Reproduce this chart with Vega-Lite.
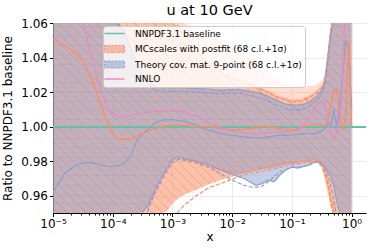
{
"$schema":"https://vega.github.io/schema/vega-lite/v6.json",
"width":313,"height":190,
"autosize":{"type":"none"},
"padding":{"left":53,"top":23,"right":7,"bottom":39},
"background":"white",
"title":{"text":"u at 10 GeV","fontSize":14.5,"fontWeight":"normal","font":"DejaVu Sans","color":"black","offset":-1.5},
"config":{
 "font":"DejaVu Sans",
 "view":{"stroke":null},
 "axis":{"domainColor":"black","tickColor":"black","labelColor":"black","titleColor":"black","labelFont":"DejaVu Sans","titleFont":"DejaVu Sans","labelFontSize":12,"titleFontSize":12,"titleFontWeight":"normal","gridColor":"#ebebeb","tickSize":3.5,"domainWidth":1,"tickWidth":1},
 "axisY":{"labelOverlap":false,"tickCount":6,"format":".2f","labelFlush":false}
},
"data":{"values":[
{"x":0.00001,"oc":1.051,"bc":0.962,"nn":1.16,"olo":0.95,"ohi":1.06,"oh":1.06,"blo":0.95,"bhi":1.06,"od1":0.93,"od2":0.93,"od3":1.08,"bd1":0.93,"bd2":1.08},
{"x":0.0000158,"oc":1.0468,"bc":0.973,"nn":1.12,"olo":0.95,"ohi":1.06,"oh":1.06,"blo":0.95,"bhi":1.06,"od1":0.93,"od2":0.93,"od3":1.08,"bd1":0.93,"bd2":1.08},
{"x":0.0000251,"oc":1.042,"bc":0.978,"nn":1.085,"olo":0.95,"ohi":1.06,"oh":1.06,"blo":0.95,"bhi":1.06,"od1":0.93,"od2":0.93,"od3":1.08,"bd1":0.93,"bd2":1.08},
{"x":0.0000316,"oc":1.038,"bc":0.979,"nn":1.062,"olo":0.95,"ohi":1.06,"oh":1.06,"blo":0.95,"bhi":1.06,"od1":0.93,"od2":0.93,"od3":1.08,"bd1":0.93,"bd2":1.08},
{"x":0.0000398,"oc":1.031,"bc":0.9792,"nn":1.046,"olo":0.95,"ohi":1.06,"oh":1.06,"blo":0.95,"bhi":1.06,"od1":0.93,"od2":0.93,"od3":1.08,"bd1":0.93,"bd2":1.08},
{"x":0.0000501,"oc":1.023,"bc":0.9788,"nn":1.033,"olo":0.95,"ohi":1.06,"oh":1.06,"blo":0.95,"bhi":1.06,"od1":0.93,"od2":0.93,"od3":1.08,"bd1":0.93,"bd2":1.08},
{"x":0.0000631,"oc":1.013,"bc":0.978,"nn":1.021,"olo":0.95,"ohi":1.06,"oh":1.06,"blo":0.95,"bhi":1.06,"od1":0.93,"od2":0.93,"od3":1.08,"bd1":0.93,"bd2":1.08},
{"x":0.0000794,"oc":1.003,"bc":0.977,"nn":1.012,"olo":0.95,"ohi":1.06,"oh":1.06,"blo":0.95,"bhi":1.06,"od1":0.93,"od2":0.93,"od3":1.08,"bd1":0.93,"bd2":1.08},
{"x":0.0001,"oc":0.9965,"bc":0.9768,"nn":1.0075,"olo":0.95,"ohi":1.06,"oh":1.06,"blo":0.95,"bhi":1.06,"od1":0.93,"od2":0.93,"od3":1.08,"bd1":0.93,"bd2":1.07},
{"x":0.000126,"oc":0.9932,"bc":0.9775,"nn":1.0055,"olo":0.95,"ohi":1.06,"oh":1.06,"blo":0.95,"bhi":1.0595,"od1":0.93,"od2":0.93,"od3":1.08,"bd1":0.93,"bd2":1.058},
{"x":0.000158,"oc":0.9923,"bc":0.979,"nn":1.0055,"olo":0.95,"ohi":1.06,"oh":1.06,"blo":0.95,"bhi":1.055,"od1":0.93,"od2":0.93,"od3":1.08,"bd1":0.93,"bd2":1.053},
{"x":0.0002,"oc":0.9932,"bc":0.983,"nn":1.0065,"olo":0.95,"ohi":1.06,"oh":1.06,"blo":0.95,"bhi":1.046,"od1":0.93,"od2":0.93,"od3":1.08,"bd1":0.93,"bd2":1.044},
{"x":0.000251,"oc":0.9945,"bc":0.9915,"nn":1.0072,"olo":0.95,"ohi":1.06,"oh":1.06,"blo":0.95,"bhi":1.038,"od1":0.93,"od2":0.93,"od3":1.08,"bd1":0.93,"bd2":1.036},
{"x":0.000316,"oc":0.996,"bc":0.996,"nn":1.0078,"olo":0.95,"ohi":1.06,"oh":1.06,"blo":0.9505,"bhi":1.031,"od1":0.93,"od2":0.93,"od3":1.08,"bd1":0.93,"bd2":1.029},
{"x":0.000398,"oc":0.9975,"bc":0.9985,"nn":1.0083,"olo":0.95,"ohi":1.06,"oh":1.06,"blo":0.955,"bhi":1.026,"od1":0.953,"od2":0.93,"od3":1.08,"bd1":0.953,"bd2":1.024},
{"x":0.000501,"oc":0.999,"bc":1.002,"nn":1.0088,"olo":0.95,"ohi":1.06,"oh":1.06,"blo":0.963,"bhi":1.0235,"od1":0.961,"od2":0.93,"od3":1.08,"bd1":0.961,"bd2":1.0215},
{"x":0.000631,"oc":1.0,"bc":1.0035,"nn":1.009,"olo":0.95,"ohi":1.06,"oh":1.06,"blo":0.9695,"bhi":1.0225,"od1":0.9675,"od2":0.93,"od3":1.08,"bd1":0.968,"bd2":1.0205},
{"x":0.000794,"oc":1.0005,"bc":1.004,"nn":1.009,"olo":0.9505,"ohi":1.06,"oh":1.06,"blo":0.9755,"bhi":1.0225,"od1":0.9735,"od2":0.93,"od3":1.08,"bd1":0.974,"bd2":1.0205},
{"x":0.001,"oc":1.001,"bc":1.004,"nn":1.009,"olo":0.9555,"ohi":1.06,"oh":1.06,"blo":0.981,"bhi":1.0225,"od1":0.979,"od2":0.945,"od3":1.08,"bd1":0.9795,"bd2":1.0205},
{"x":0.00126,"oc":1.001,"bc":1.0035,"nn":1.0088,"olo":0.9585,"ohi":1.058,"oh":1.06,"blo":0.9825,"bhi":1.0225,"od1":0.9815,"od2":0.951,"od3":1.056,"bd1":0.981,"bd2":1.0205},
{"x":0.00158,"oc":1.0008,"bc":1.003,"nn":1.0085,"olo":0.9605,"ohi":1.055,"oh":1.06,"blo":0.9815,"bhi":1.0225,"od1":0.981,"od2":0.9545,"od3":1.053,"bd1":0.9805,"bd2":1.0205},
{"x":0.00251,"oc":1.0,"bc":1.001,"nn":1.006,"olo":0.9635,"ohi":1.045,"oh":1.056,"blo":0.98,"bhi":1.022,"od1":0.9795,"od2":0.96,"od3":1.0435,"bd1":0.979,"bd2":1.02},
{"x":0.00398,"oc":1.0,"bc":0.998,"nn":1.0025,"olo":0.9665,"ohi":1.038,"oh":1.052,"blo":0.978,"bhi":1.0218,"od1":0.977,"od2":0.9645,"od3":1.0365,"bd1":0.9765,"bd2":1.0195},
{"x":0.00631,"oc":0.999,"bc":0.996,"nn":0.9995,"olo":0.969,"ohi":1.033,"oh":1.049,"blo":0.975,"bhi":1.021,"od1":0.975,"od2":0.967,"od3":1.0315,"bd1":0.973,"bd2":1.019},
{"x":0.01,"oc":0.998,"bc":0.995,"nn":0.9975,"olo":0.9712,"ohi":1.029,"oh":1.046,"blo":0.9725,"bhi":1.0215,"od1":0.974,"od2":0.9695,"od3":1.0275,"bd1":0.969,"bd2":1.0193},
{"x":0.0126,"oc":0.998,"bc":0.9945,"nn":0.9968,"olo":0.972,"ohi":1.028,"oh":1.044,"blo":0.971,"bhi":1.0215,"od1":0.9737,"od2":0.971,"od3":1.0265,"bd1":0.9675,"bd2":1.0193},
{"x":0.0158,"oc":0.9985,"bc":0.994,"nn":0.9963,"olo":0.973,"ohi":1.027,"oh":1.042,"blo":0.97,"bhi":1.021,"od1":0.9737,"od2":0.972,"od3":1.0255,"bd1":0.966,"bd2":1.0188},
{"x":0.02,"oc":0.999,"bc":0.9938,"nn":0.996,"olo":0.974,"ohi":1.0258,"oh":1.04,"blo":0.968,"bhi":1.0205,"od1":0.974,"od2":0.973,"od3":1.0243,"bd1":0.9652,"bd2":1.018},
{"x":0.0251,"oc":0.9995,"bc":0.9935,"nn":0.996,"olo":0.9745,"ohi":1.0245,"oh":1.038,"blo":0.966,"bhi":1.0198,"od1":0.975,"od2":0.9735,"od3":1.023,"bd1":0.9648,"bd2":1.0172},
{"x":0.0316,"oc":1.0,"bc":0.9935,"nn":0.9962,"olo":0.975,"ohi":1.0228,"oh":1.035,"blo":0.967,"bhi":1.019,"od1":0.976,"od2":0.974,"od3":1.0213,"bd1":0.9655,"bd2":1.0163},
{"x":0.0398,"oc":1.0,"bc":0.994,"nn":0.9965,"olo":0.9755,"ohi":1.021,"oh":1.032,"blo":0.969,"bhi":1.0175,"od1":0.977,"od2":0.9748,"od3":1.0195,"bd1":0.968,"bd2":1.0148},
{"x":0.0501,"oc":0.9995,"bc":0.9945,"nn":0.9968,"olo":0.976,"ohi":1.0195,"oh":1.029,"blo":0.968,"bhi":1.016,"od1":0.9778,"od2":0.9755,"od3":1.018,"bd1":0.971,"bd2":1.0132},
{"x":0.0631,"oc":0.999,"bc":0.995,"nn":0.997,"olo":0.977,"ohi":1.018,"oh":1.027,"blo":0.972,"bhi":1.0145,"od1":0.9785,"od2":0.9765,"od3":1.0165,"bd1":0.974,"bd2":1.0118},
{"x":0.0794,"oc":0.998,"bc":0.995,"nn":0.997,"olo":0.978,"ohi":1.0167,"oh":1.025,"blo":0.975,"bhi":1.013,"od1":0.979,"od2":0.977,"od3":1.0152,"bd1":0.975,"bd2":1.0105},
{"x":0.1,"oc":0.998,"bc":0.9952,"nn":0.9972,"olo":0.9785,"ohi":1.016,"oh":1.024,"blo":0.9765,"bhi":1.0125,"od1":0.9792,"od2":0.978,"od3":1.0145,"bd1":0.9765,"bd2":1.0098},
{"x":0.126,"oc":0.999,"bc":0.9955,"nn":0.998,"olo":0.979,"ohi":1.016,"oh":1.0235,"blo":0.976,"bhi":1.0125,"od1":0.9797,"od2":0.9785,"od3":1.0145,"bd1":0.9765,"bd2":1.0098},
{"x":0.158,"oc":1.0,"bc":0.996,"nn":1.001,"olo":0.9795,"ohi":1.0168,"oh":1.0235,"blo":0.977,"bhi":1.013,"od1":0.98,"od2":0.979,"od3":1.0153,"bd1":0.977,"bd2":1.0103},
{"x":0.2,"oc":1.001,"bc":0.996,"nn":1.006,"olo":0.98,"ohi":1.0185,"oh":1.0235,"blo":0.978,"bhi":1.0145,"od1":0.9807,"od2":0.9795,"od3":1.017,"bd1":0.978,"bd2":1.012},
{"x":0.251,"oc":1.0015,"bc":0.996,"nn":1.0115,"olo":0.9805,"ohi":1.0205,"oh":1.024,"blo":0.98,"bhi":1.017,"od1":0.9812,"od2":0.98,"od3":1.019,"bd1":0.9795,"bd2":1.0145},
{"x":0.316,"oc":1.001,"bc":0.9975,"nn":1.015,"olo":0.976,"ohi":1.024,"oh":1.0265,"blo":0.979,"bhi":1.021,"od1":0.979,"od2":0.9775,"od3":1.0225,"bd1":0.9785,"bd2":1.0185},
{"x":0.355,"oc":1.0,"bc":0.999,"nn":1.0125,"olo":0.97,"ohi":1.028,"oh":1.03,"blo":0.9765,"bhi":1.026,"od1":0.975,"od2":0.973,"od3":1.0265,"bd1":0.976,"bd2":1.024},
{"x":0.398,"oc":1.003,"bc":1.002,"nn":1.004,"olo":0.962,"ohi":1.042,"oh":1.043,"blo":0.974,"bhi":1.04,"od1":0.968,"od2":0.967,"od3":1.04,"bd1":0.972,"bd2":1.037},
{"x":0.447,"oc":1.012,"bc":1.0,"nn":0.998,"olo":0.953,"ohi":1.058,"oh":1.059,"blo":0.971,"bhi":1.055,"od1":0.958,"od2":0.959,"od3":1.056,"bd1":0.966,"bd2":1.052},
{"x":0.501,"oc":1.02,"bc":1.01,"nn":0.992,"olo":0.95,"ohi":1.06,"oh":1.06,"blo":0.966,"bhi":1.0595,"od1":0.948,"od2":0.952,"od3":1.07,"bd1":0.958,"bd2":1.065},
{"x":0.562,"oc":1.022,"bc":1.0,"nn":0.997,"olo":0.95,"ohi":1.06,"oh":1.06,"blo":0.957,"bhi":1.06,"od1":0.935,"od2":0.94,"od3":1.08,"bd1":0.948,"bd2":1.08},
{"x":0.631,"oc":1.008,"bc":1.012,"nn":1.005,"olo":0.95,"ohi":1.06,"oh":1.06,"blo":0.9505,"bhi":1.06,"od1":0.93,"od2":0.93,"od3":1.08,"bd1":0.93,"bd2":1.08},
{"x":0.708,"oc":0.998,"bc":1.03,"nn":1.03,"olo":0.95,"ohi":1.06,"oh":1.06,"blo":0.95,"bhi":1.06,"od1":0.93,"od2":0.93,"od3":1.08,"bd1":0.93,"bd2":1.08},
{"x":0.794,"oc":1.005,"bc":1.05,"nn":1.08,"olo":0.95,"ohi":1.06,"oh":1.06,"blo":0.95,"bhi":1.06,"od1":0.93,"od2":0.93,"od3":1.08,"bd1":0.93,"bd2":1.08},
{"x":0.891,"oc":1.05,"bc":1.045,"nn":1.12,"olo":0.95,"ohi":1.06,"oh":1.06,"blo":0.95,"bhi":1.06,"od1":0.93,"od2":0.93,"od3":1.08,"bd1":0.93,"bd2":1.08},
{"x":1.0,"oc":1.0,"bc":1.01,"nn":1.15,"olo":0.95,"ohi":1.06,"oh":1.06,"blo":0.95,"bhi":1.06,"od1":0.93,"od2":0.93,"od3":1.08,"bd1":0.93,"bd2":1.08}
]},
"layer":[
{"mark":{"type":"area","clip":true,"fillOpacity":0.55,"color":{"gradient":"linear","x1":0,"y1":1,"x2":1.2,"y2":0.2374,"stops":[
{"offset":0,"color":"#fc8d62"},
{"offset":0.0087,"color":"#fc8d62"},{"offset":0.0090,"color":"#e4602a"},{"offset":0.0110,"color":"#e4602a"},{"offset":0.0113,"color":"#fc8d62"},
{"offset":0.0276,"color":"#fc8d62"},{"offset":0.0279,"color":"#e4602a"},{"offset":0.0299,"color":"#e4602a"},{"offset":0.0302,"color":"#fc8d62"},
{"offset":0.0465,"color":"#fc8d62"},{"offset":0.0468,"color":"#e4602a"},{"offset":0.0488,"color":"#e4602a"},{"offset":0.0491,"color":"#fc8d62"},
{"offset":0.0654,"color":"#fc8d62"},{"offset":0.0657,"color":"#e4602a"},{"offset":0.0677,"color":"#e4602a"},{"offset":0.0680,"color":"#fc8d62"},
{"offset":0.0843,"color":"#fc8d62"},{"offset":0.0846,"color":"#e4602a"},{"offset":0.0866,"color":"#e4602a"},{"offset":0.0869,"color":"#fc8d62"},
{"offset":0.1032,"color":"#fc8d62"},{"offset":0.1035,"color":"#e4602a"},{"offset":0.1055,"color":"#e4602a"},{"offset":0.1058,"color":"#fc8d62"},
{"offset":0.1221,"color":"#fc8d62"},{"offset":0.1224,"color":"#e4602a"},{"offset":0.1244,"color":"#e4602a"},{"offset":0.1247,"color":"#fc8d62"},
{"offset":0.1410,"color":"#fc8d62"},{"offset":0.1413,"color":"#e4602a"},{"offset":0.1433,"color":"#e4602a"},{"offset":0.1436,"color":"#fc8d62"},
{"offset":0.1599,"color":"#fc8d62"},{"offset":0.1602,"color":"#e4602a"},{"offset":0.1622,"color":"#e4602a"},{"offset":0.1625,"color":"#fc8d62"},
{"offset":0.1788,"color":"#fc8d62"},{"offset":0.1791,"color":"#e4602a"},{"offset":0.1811,"color":"#e4602a"},{"offset":0.1814,"color":"#fc8d62"},
{"offset":0.1977,"color":"#fc8d62"},{"offset":0.1980,"color":"#e4602a"},{"offset":0.2000,"color":"#e4602a"},{"offset":0.2003,"color":"#fc8d62"},
{"offset":0.2166,"color":"#fc8d62"},{"offset":0.2169,"color":"#e4602a"},{"offset":0.2189,"color":"#e4602a"},{"offset":0.2192,"color":"#fc8d62"},
{"offset":0.2355,"color":"#fc8d62"},{"offset":0.2358,"color":"#e4602a"},{"offset":0.2378,"color":"#e4602a"},{"offset":0.2381,"color":"#fc8d62"},
{"offset":0.2544,"color":"#fc8d62"},{"offset":0.2547,"color":"#e4602a"},{"offset":0.2567,"color":"#e4602a"},{"offset":0.2570,"color":"#fc8d62"},
{"offset":0.2733,"color":"#fc8d62"},{"offset":0.2736,"color":"#e4602a"},{"offset":0.2756,"color":"#e4602a"},{"offset":0.2759,"color":"#fc8d62"},
{"offset":0.2922,"color":"#fc8d62"},{"offset":0.2925,"color":"#e4602a"},{"offset":0.2945,"color":"#e4602a"},{"offset":0.2948,"color":"#fc8d62"},
{"offset":0.3111,"color":"#fc8d62"},{"offset":0.3114,"color":"#e4602a"},{"offset":0.3134,"color":"#e4602a"},{"offset":0.3137,"color":"#fc8d62"},
{"offset":0.3300,"color":"#fc8d62"},{"offset":0.3303,"color":"#e4602a"},{"offset":0.3323,"color":"#e4602a"},{"offset":0.3326,"color":"#fc8d62"},
{"offset":0.3489,"color":"#fc8d62"},{"offset":0.3492,"color":"#e4602a"},{"offset":0.3512,"color":"#e4602a"},{"offset":0.3515,"color":"#fc8d62"},
{"offset":0.3678,"color":"#fc8d62"},{"offset":0.3681,"color":"#e4602a"},{"offset":0.3701,"color":"#e4602a"},{"offset":0.3704,"color":"#fc8d62"},
{"offset":0.3867,"color":"#fc8d62"},{"offset":0.3870,"color":"#e4602a"},{"offset":0.3890,"color":"#e4602a"},{"offset":0.3893,"color":"#fc8d62"},
{"offset":0.4056,"color":"#fc8d62"},{"offset":0.4059,"color":"#e4602a"},{"offset":0.4079,"color":"#e4602a"},{"offset":0.4082,"color":"#fc8d62"},
{"offset":0.4245,"color":"#fc8d62"},{"offset":0.4248,"color":"#e4602a"},{"offset":0.4268,"color":"#e4602a"},{"offset":0.4271,"color":"#fc8d62"},
{"offset":0.4434,"color":"#fc8d62"},{"offset":0.4437,"color":"#e4602a"},{"offset":0.4457,"color":"#e4602a"},{"offset":0.4460,"color":"#fc8d62"},
{"offset":0.4623,"color":"#fc8d62"},{"offset":0.4626,"color":"#e4602a"},{"offset":0.4646,"color":"#e4602a"},{"offset":0.4649,"color":"#fc8d62"},
{"offset":0.4812,"color":"#fc8d62"},{"offset":0.4815,"color":"#e4602a"},{"offset":0.4835,"color":"#e4602a"},{"offset":0.4838,"color":"#fc8d62"},
{"offset":0.5001,"color":"#fc8d62"},{"offset":0.5004,"color":"#e4602a"},{"offset":0.5024,"color":"#e4602a"},{"offset":0.5027,"color":"#fc8d62"},
{"offset":0.5190,"color":"#fc8d62"},{"offset":0.5193,"color":"#e4602a"},{"offset":0.5213,"color":"#e4602a"},{"offset":0.5216,"color":"#fc8d62"},
{"offset":0.5379,"color":"#fc8d62"},{"offset":0.5382,"color":"#e4602a"},{"offset":0.5402,"color":"#e4602a"},{"offset":0.5405,"color":"#fc8d62"},
{"offset":0.5568,"color":"#fc8d62"},{"offset":0.5571,"color":"#e4602a"},{"offset":0.5591,"color":"#e4602a"},{"offset":0.5594,"color":"#fc8d62"},
{"offset":0.5757,"color":"#fc8d62"},{"offset":0.5760,"color":"#e4602a"},{"offset":0.5780,"color":"#e4602a"},{"offset":0.5783,"color":"#fc8d62"},
{"offset":0.5946,"color":"#fc8d62"},{"offset":0.5949,"color":"#e4602a"},{"offset":0.5969,"color":"#e4602a"},{"offset":0.5972,"color":"#fc8d62"},
{"offset":0.6135,"color":"#fc8d62"},{"offset":0.6138,"color":"#e4602a"},{"offset":0.6158,"color":"#e4602a"},{"offset":0.6161,"color":"#fc8d62"},
{"offset":0.6324,"color":"#fc8d62"},{"offset":0.6327,"color":"#e4602a"},{"offset":0.6347,"color":"#e4602a"},{"offset":0.6350,"color":"#fc8d62"},
{"offset":0.6513,"color":"#fc8d62"},{"offset":0.6516,"color":"#e4602a"},{"offset":0.6536,"color":"#e4602a"},{"offset":0.6539,"color":"#fc8d62"},
{"offset":0.6702,"color":"#fc8d62"},{"offset":0.6705,"color":"#e4602a"},{"offset":0.6725,"color":"#e4602a"},{"offset":0.6728,"color":"#fc8d62"},
{"offset":0.6891,"color":"#fc8d62"},{"offset":0.6894,"color":"#e4602a"},{"offset":0.6914,"color":"#e4602a"},{"offset":0.6917,"color":"#fc8d62"},
{"offset":0.7080,"color":"#fc8d62"},{"offset":0.7083,"color":"#e4602a"},{"offset":0.7103,"color":"#e4602a"},{"offset":0.7106,"color":"#fc8d62"},
{"offset":0.7269,"color":"#fc8d62"},{"offset":0.7272,"color":"#e4602a"},{"offset":0.7292,"color":"#e4602a"},{"offset":0.7295,"color":"#fc8d62"},
{"offset":0.7458,"color":"#fc8d62"},{"offset":0.7461,"color":"#e4602a"},{"offset":0.7481,"color":"#e4602a"},{"offset":0.7484,"color":"#fc8d62"},
{"offset":0.7647,"color":"#fc8d62"},{"offset":0.7650,"color":"#e4602a"},{"offset":0.7670,"color":"#e4602a"},{"offset":0.7673,"color":"#fc8d62"},
{"offset":0.7836,"color":"#fc8d62"},{"offset":0.7839,"color":"#e4602a"},{"offset":0.7859,"color":"#e4602a"},{"offset":0.7862,"color":"#fc8d62"},
{"offset":0.8025,"color":"#fc8d62"},{"offset":0.8028,"color":"#e4602a"},{"offset":0.8048,"color":"#e4602a"},{"offset":0.8051,"color":"#fc8d62"},
{"offset":0.8214,"color":"#fc8d62"},{"offset":0.8217,"color":"#e4602a"},{"offset":0.8237,"color":"#e4602a"},{"offset":0.8240,"color":"#fc8d62"},
{"offset":0.8403,"color":"#fc8d62"},{"offset":0.8406,"color":"#e4602a"},{"offset":0.8426,"color":"#e4602a"},{"offset":0.8429,"color":"#fc8d62"},
{"offset":0.8592,"color":"#fc8d62"},{"offset":0.8595,"color":"#e4602a"},{"offset":0.8615,"color":"#e4602a"},{"offset":0.8618,"color":"#fc8d62"},
{"offset":0.8781,"color":"#fc8d62"},{"offset":0.8784,"color":"#e4602a"},{"offset":0.8804,"color":"#e4602a"},{"offset":0.8807,"color":"#fc8d62"},
{"offset":0.8970,"color":"#fc8d62"},{"offset":0.8973,"color":"#e4602a"},{"offset":0.8993,"color":"#e4602a"},{"offset":0.8996,"color":"#fc8d62"},
{"offset":0.9159,"color":"#fc8d62"},{"offset":0.9162,"color":"#e4602a"},{"offset":0.9182,"color":"#e4602a"},{"offset":0.9185,"color":"#fc8d62"},
{"offset":0.9348,"color":"#fc8d62"},{"offset":0.9351,"color":"#e4602a"},{"offset":0.9371,"color":"#e4602a"},{"offset":0.9374,"color":"#fc8d62"},
{"offset":0.9537,"color":"#fc8d62"},{"offset":0.9540,"color":"#e4602a"},{"offset":0.9560,"color":"#e4602a"},{"offset":0.9563,"color":"#fc8d62"},
{"offset":0.9726,"color":"#fc8d62"},{"offset":0.9729,"color":"#e4602a"},{"offset":0.9749,"color":"#e4602a"},{"offset":0.9752,"color":"#fc8d62"},
{"offset":1,"color":"#fc8d62"}]}},
 "encoding":{
  "x":{"field":"x","type":"quantitative","title":"x","scale":{"type":"log","domain":[0.00001,1.74],"nice":false},
   "axis":{"values":[0.00001,0.00002,0.00003,0.00004,0.00005,0.00006,0.00007,0.00008,0.00009,0.0001,0.0002,0.0003,0.0004,0.0005,0.0006,0.0007,0.0008,0.0009,0.001,0.002,0.003,0.004,0.005,0.006,0.007,0.008,0.009,0.01,0.02,0.03,0.04,0.05,0.06,0.07,0.08,0.09,0.1,0.2,0.3,0.4,0.5,0.6,0.7,0.8,0.9,1],
    "labelExpr":"abs(log(datum.value)/LN10 - round(log(datum.value)/LN10)) < 0.01 ? ['10⁻⁵','10⁻⁴','10⁻³','10⁻²','10⁻¹','10⁰'][round(log(datum.value)/LN10)+5] : ''",
    "labelOverlap":false,"labelFlush":false,"grid":true,
    "gridOpacity":{"condition":{"test":"abs(log(datum.value)/LN10 - round(log(datum.value)/LN10)) < 0.01","value":1},"value":0},
    "tickSize":{"condition":{"test":"abs(log(datum.value)/LN10 - round(log(datum.value)/LN10)) < 0.01","value":3.5},"value":2},
    "labelPadding":2,"titlePadding":2}},
  "y":{"field":"olo","type":"quantitative","title":"Ratio to NNPDF3.1 baseline","scale":{"domain":[0.95,1.06],"nice":false,"zero":false},
   "axis":{"values":[0.96,0.98,1.0,1.02,1.04,1.06],"format":".2f","grid":true,"labelOverlap":false,"labelFlush":false,"labelBound":false,"labelPadding":2,"titlePadding":6}},
  "y2":{"field":"ohi"}
 }},
{"mark":{"type":"area","clip":true,"color":"#fc8d62","fillOpacity":0.3},
 "encoding":{"x":{"field":"x","type":"quantitative","title":"x"},"y":{"field":"ohi","type":"quantitative","title":"Ratio to NNPDF3.1 baseline"},"y2":{"field":"oh"}}},
{"mark":{"type":"area","clip":true,"fillOpacity":0.5,"color":{"gradient":"linear","x1":0,"y1":0,"x2":0,"y2":1,"stops":[
{"offset":0,"color":"#8da0cb"},
{"offset":0.017,"color":"#8da0cb"},{"offset":0.0175,"color":"#6e96e6"},{"offset":0.0225,"color":"#6e96e6"},{"offset":0.023,"color":"#8da0cb"},
{"offset":0.066,"color":"#8da0cb"},{"offset":0.0665,"color":"#6e96e6"},{"offset":0.0715,"color":"#6e96e6"},{"offset":0.072,"color":"#8da0cb"},
{"offset":0.115,"color":"#8da0cb"},{"offset":0.1155,"color":"#6e96e6"},{"offset":0.1205,"color":"#6e96e6"},{"offset":0.121,"color":"#8da0cb"},
{"offset":0.164,"color":"#8da0cb"},{"offset":0.1645,"color":"#6e96e6"},{"offset":0.1695,"color":"#6e96e6"},{"offset":0.170,"color":"#8da0cb"},
{"offset":0.213,"color":"#8da0cb"},{"offset":0.2135,"color":"#6e96e6"},{"offset":0.2185,"color":"#6e96e6"},{"offset":0.219,"color":"#8da0cb"},
{"offset":0.262,"color":"#8da0cb"},{"offset":0.2625,"color":"#6e96e6"},{"offset":0.2675,"color":"#6e96e6"},{"offset":0.268,"color":"#8da0cb"},
{"offset":0.311,"color":"#8da0cb"},{"offset":0.3115,"color":"#6e96e6"},{"offset":0.3165,"color":"#6e96e6"},{"offset":0.317,"color":"#8da0cb"},
{"offset":0.360,"color":"#8da0cb"},{"offset":0.3605,"color":"#6e96e6"},{"offset":0.3655,"color":"#6e96e6"},{"offset":0.366,"color":"#8da0cb"},
{"offset":0.409,"color":"#8da0cb"},{"offset":0.4095,"color":"#6e96e6"},{"offset":0.4145,"color":"#6e96e6"},{"offset":0.415,"color":"#8da0cb"},
{"offset":0.458,"color":"#8da0cb"},{"offset":0.4585,"color":"#6e96e6"},{"offset":0.4635,"color":"#6e96e6"},{"offset":0.464,"color":"#8da0cb"},
{"offset":0.507,"color":"#8da0cb"},{"offset":0.5075,"color":"#6e96e6"},{"offset":0.5125,"color":"#6e96e6"},{"offset":0.513,"color":"#8da0cb"},
{"offset":0.556,"color":"#8da0cb"},{"offset":0.5565,"color":"#6e96e6"},{"offset":0.5615,"color":"#6e96e6"},{"offset":0.562,"color":"#8da0cb"},
{"offset":0.605,"color":"#8da0cb"},{"offset":0.6055,"color":"#6e96e6"},{"offset":0.6105,"color":"#6e96e6"},{"offset":0.611,"color":"#8da0cb"},
{"offset":0.654,"color":"#8da0cb"},{"offset":0.6545,"color":"#6e96e6"},{"offset":0.6595,"color":"#6e96e6"},{"offset":0.660,"color":"#8da0cb"},
{"offset":0.703,"color":"#8da0cb"},{"offset":0.7035,"color":"#6e96e6"},{"offset":0.7085,"color":"#6e96e6"},{"offset":0.709,"color":"#8da0cb"},
{"offset":0.752,"color":"#8da0cb"},{"offset":0.7525,"color":"#6e96e6"},{"offset":0.7575,"color":"#6e96e6"},{"offset":0.758,"color":"#8da0cb"},
{"offset":0.801,"color":"#8da0cb"},{"offset":0.8015,"color":"#6e96e6"},{"offset":0.8065,"color":"#6e96e6"},{"offset":0.807,"color":"#8da0cb"},
{"offset":0.850,"color":"#8da0cb"},{"offset":0.8505,"color":"#6e96e6"},{"offset":0.8555,"color":"#6e96e6"},{"offset":0.856,"color":"#8da0cb"},
{"offset":0.899,"color":"#8da0cb"},{"offset":0.8995,"color":"#6e96e6"},{"offset":0.9045,"color":"#6e96e6"},{"offset":0.905,"color":"#8da0cb"},
{"offset":0.948,"color":"#8da0cb"},{"offset":0.9485,"color":"#6e96e6"},{"offset":0.9535,"color":"#6e96e6"},{"offset":0.954,"color":"#8da0cb"},
{"offset":1,"color":"#8da0cb"}]}},
 "encoding":{"x":{"field":"x","type":"quantitative","title":"x"},"y":{"field":"blo","type":"quantitative","title":"Ratio to NNPDF3.1 baseline"},"y2":{"field":"bhi"}}},
{"transform":[{"filter":"datum.blo > 0.9502"}],
 "mark":{"type":"line","clip":true,"color":"#8da0cb","strokeWidth":1.2},
 "encoding":{"x":{"field":"x","type":"quantitative","title":"x"},"y":{"field":"blo","type":"quantitative","title":"Ratio to NNPDF3.1 baseline"}}},
{"transform":[{"filter":"datum.bhi < 1.0598"}],
 "mark":{"type":"line","clip":true,"color":"#8da0cb","strokeWidth":1.2},
 "encoding":{"x":{"field":"x","type":"quantitative","title":"x"},"y":{"field":"bhi","type":"quantitative","title":"Ratio to NNPDF3.1 baseline"}}},
{"mark":{"type":"line","clip":true,"color":"#fc8d62","strokeWidth":1.2,"strokeDash":[4,2]},
 "encoding":{"x":{"field":"x","type":"quantitative","title":"x"},"y":{"field":"od1","type":"quantitative","title":"Ratio to NNPDF3.1 baseline"}}},
{"mark":{"type":"line","clip":true,"color":"#fc8d62","strokeWidth":1.2,"strokeDash":[4,2]},
 "encoding":{"x":{"field":"x","type":"quantitative","title":"x"},"y":{"field":"od2","type":"quantitative","title":"Ratio to NNPDF3.1 baseline"}}},
{"mark":{"type":"line","clip":true,"color":"#fc8d62","strokeWidth":1.2,"strokeDash":[4,2]},
 "encoding":{"x":{"field":"x","type":"quantitative","title":"x"},"y":{"field":"od3","type":"quantitative","title":"Ratio to NNPDF3.1 baseline"}}},
{"mark":{"type":"line","clip":true,"color":"#8da0cb","strokeWidth":1.2,"strokeDash":[4,2]},
 "encoding":{"x":{"field":"x","type":"quantitative","title":"x"},"y":{"field":"bd1","type":"quantitative","title":"Ratio to NNPDF3.1 baseline"}}},
{"mark":{"type":"line","clip":true,"color":"#8da0cb","strokeWidth":1.2,"strokeDash":[4,2]},
 "encoding":{"x":{"field":"x","type":"quantitative","title":"x"},"y":{"field":"bd2","type":"quantitative","title":"Ratio to NNPDF3.1 baseline"}}},
{"mark":{"type":"rule","strokeWidth":1.5,"clip":true},
 "encoding":{"y":{"datum":1,"type":"quantitative","title":"Ratio to NNPDF3.1 baseline"},
  "color":{"datum":"NNPDF3.1 baseline","type":"nominal",
   "scale":{"domain":["NNPDF3.1 baseline","MCscales with postfit (68 c.l.+1σ)","Theory cov. mat. 9-point (68 c.l.+1σ)","NNLO"],"range":["#66c2a5","#fc8d62","#8da0cb","#e78ac3"]},
   "legend":{"orient":"none","legendX":50,"legendY":3,"title":null,"zindex":1,"fillColor":"rgba(255,255,255,0.8)","strokeColor":"#cccccc","cornerRadius":3,"padding":3,
    "labelFont":"DejaVu Sans","labelFontSize":9,"labelColor":"black","labelLimit":400,"symbolSize":100,"symbolOffset":4,"labelOffset":16,"rowPadding":4.5,"symbolStrokeWidth":1.5,
    "encode":{"symbols":{"update":{
     "shape":{"signal":"(datum.value=='NNLO'||datum.value=='NNPDF3.1 baseline') ? 'M-2,0H2' : 'M-2,-0.7H2V0.7H-2Z'"},
     "fill":{"signal":"(datum.value=='NNLO'||datum.value=='NNPDF3.1 baseline') ? 'transparent' : scale('color', datum.value)"},
     "fillOpacity":{"value":0.55},
     "strokeDash":{"signal":"(datum.value=='NNLO'||datum.value=='NNPDF3.1 baseline') ? [] : [2,1.5]"},
     "strokeWidth":{"signal":"(datum.value=='NNLO'||datum.value=='NNPDF3.1 baseline') ? 1.5 : 1"}}}}}}}},
{"mark":{"type":"line","clip":true,"strokeWidth":1.3},
 "encoding":{"x":{"field":"x","type":"quantitative","title":"x"},"y":{"field":"bc","type":"quantitative","title":"Ratio to NNPDF3.1 baseline"},"color":{"datum":"Theory cov. mat. 9-point (68 c.l.+1σ)","type":"nominal"}}},
{"mark":{"type":"line","clip":true,"strokeWidth":1.3},
 "encoding":{"x":{"field":"x","type":"quantitative","title":"x"},"y":{"field":"oc","type":"quantitative","title":"Ratio to NNPDF3.1 baseline"},"color":{"datum":"MCscales with postfit (68 c.l.+1σ)","type":"nominal"}}},
{"mark":{"type":"line","clip":true,"strokeWidth":1.3},
 "encoding":{"x":{"field":"x","type":"quantitative","title":"x"},"y":{"field":"nn","type":"quantitative","title":"Ratio to NNPDF3.1 baseline"},"color":{"datum":"NNLO","type":"nominal"}}}
]
}
